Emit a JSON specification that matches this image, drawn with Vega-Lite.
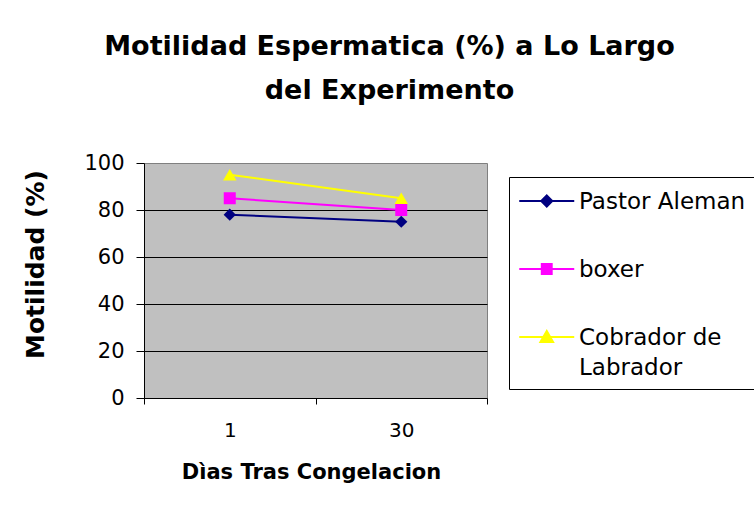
{
  "$schema": "https://vega.github.io/schema/vega-lite/v6.json",
  "width": 343,
  "height": 235,
  "autosize": "none",
  "padding": {"left": 144, "top": 163, "right": 267, "bottom": 110},
  "background": "white",
  "config": {
    "font": "DejaVu Sans",
    "view": {"fill": "#c0c0c0", "stroke": "#808080", "strokeWidth": 1}
  },
  "title": {
    "text": ["Motilidad Espermatica (%) a Lo Largo", "del Experimento"],
    "font": "DejaVu Sans",
    "fontSize": 27,
    "fontWeight": "bold",
    "color": "black",
    "anchor": "middle",
    "frame": "group",
    "dx": 74,
    "lineHeight": 44,
    "baseline": "alphabetic",
    "offset": 26
  },
  "data": {
    "values": [
      {"dia": "1", "raza": "Pastor Aleman", "motilidad": 78},
      {"dia": "30", "raza": "Pastor Aleman", "motilidad": 75},
      {"dia": "1", "raza": "boxer", "motilidad": 85},
      {"dia": "30", "raza": "boxer", "motilidad": 80},
      {"dia": "1", "raza": "Cobrador de Labrador", "motilidad": 95},
      {"dia": "30", "raza": "Cobrador de Labrador", "motilidad": 85}
    ]
  },
  "encoding": {
    "x": {
      "field": "dia",
      "type": "ordinal",
      "sort": ["1", "30"],
      "scale": {"type": "band", "paddingInner": 0, "paddingOuter": 0},
      "axis": {
        "title": "Dìas Tras Congelacion",
        "titleFont": "DejaVu Sans",
        "titleFontSize": 21,
        "titleFontWeight": "bold",
        "titleColor": "black",
        "titleX": 167,
        "titleY": 80,
        "titleBaseline": "alphabetic",
        "titleAlign": "center",
        "labelAngle": 0,
        "labelFont": "DejaVu Sans",
        "labelFontSize": 20,
        "labelColor": "black",
        "labelPadding": 16,
        "tickBand": "extent",
        "tickSize": 6,
        "tickColor": "black",
        "domainColor": "black",
        "grid": false
      }
    },
    "y": {
      "field": "motilidad",
      "type": "quantitative",
      "scale": {"domain": [0, 100], "nice": false},
      "axis": {
        "title": "Motilidad (%)",
        "titleFont": "DejaVu Sans",
        "titleFontSize": 25,
        "titleFontWeight": "bold",
        "titleColor": "black",
        "titleX": -109,
        "titleY": 101,
        "titleAngle": -90,
        "titleAlign": "center",
        "titleBaseline": "middle",
        "values": [0, 20, 40, 60, 80, 100],
        "labelFont": "DejaVu Sans",
        "labelFontSize": 21,
        "labelColor": "black",
        "labelPadding": 12,
        "tickSize": 8,
        "tickColor": "black",
        "domainColor": "black",
        "grid": true,
        "gridColor": "black",
        "gridOpacity": {"condition": {"test": "datum.value === 0 || datum.value === 100", "value": 0}, "value": 1}
      }
    },
    "color": {
      "field": "raza",
      "type": "nominal",
      "sort": ["Pastor Aleman", "boxer", "Cobrador de Labrador"],
      "scale": {"domain": ["Pastor Aleman", "boxer", "Cobrador de Labrador"], "range": ["#000080", "#ff00ff", "#ffff00"]},
      "legend": {
        "title": null,
        "orient": "none",
        "legendX": 365,
        "legendY": 14,
        "padding": 9,
        "fillColor": "white",
        "strokeColor": "black",
        "symbolSize": 756,
        "symbolStrokeWidth": 2,
        "labelOffset": 31,
        "labelFont": "DejaVu Sans",
        "labelFontSize": 23,
        "labelColor": "black",
        "labelLimit": 0,
        "rowPadding": 40,
        "labelExpr": "datum.label == 'Cobrador de Labrador' ? ['Cobrador de', 'Labrador'] : datum.label",
        "encode": {
          "symbols": {
            "update": {
              "shape": {"signal": "datum.value == 'Pastor Aleman' ? 'M-1,0L3,0M1,-0.4L1.4,0L1,0.4L0.6,0Z' : datum.value == 'boxer' ? 'M-1,0L3,0M0.64,-0.36L1.36,-0.36L1.36,0.36L0.64,0.36Z' : 'M-1,0L3,0M1,-0.44L1.46,0.36L0.54,0.36Z'"},
              "fill": {"signal": "scale('color', datum.value)"},
              "stroke": {"signal": "scale('color', datum.value)"},
              "strokeWidth": {"value": 2},
              "opacity": {"value": 1},
              "fillOpacity": {"value": 1}
            }
          },
          "labels": {
            "update": {
              "dy": {"value": 1},
              "lineHeight": {"value": 30}
            }
          }
        }
      }
    }
  },
  "layer": [
    {
      "mark": {"type": "line", "strokeWidth": 2}
    },
    {
      "transform": [{"filter": "datum.raza == 'Pastor Aleman'"}],
      "mark": {"type": "point", "shape": "diamond", "filled": true, "size": 150, "opacity": 1}
    },
    {
      "transform": [{"filter": "datum.raza == 'boxer'"}],
      "mark": {"type": "point", "shape": "square", "filled": true, "size": 144, "opacity": 1}
    },
    {
      "transform": [{"filter": "datum.raza == 'Cobrador de Labrador'"}],
      "mark": {"type": "point", "shape": "triangle-up", "filled": true, "size": 180, "opacity": 1}
    }
  ]
}
